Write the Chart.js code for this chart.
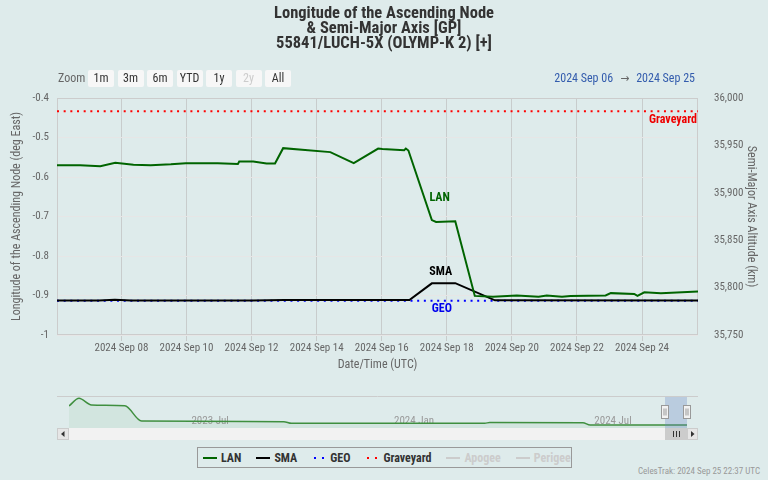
<!DOCTYPE html>
<html>
<head>
<meta charset="utf-8">
<title>55841/LUCH-5X (OLYMP-K 2) - LAN & SMA</title>
<script src="https://cdn.jsdelivr.net/npm/chart.js@4.4.1/dist/chart.umd.min.js"></script>
<style>
  body { margin: 0; background: #deebeb; font-family: 'Roboto Condensed', 'DejaVu Sans Condensed', sans-serif; }
  #wrap { position: relative; width: 768px; height: 480px; overflow: hidden; }
  canvas { position: absolute; left: 0; }
  #main { top: 0; }
  #nav { top: 390px; }
  #zoom-label { position: absolute; left: 58px; top: 70px; line-height: 17px; font-size: 12px; color: #666; }
  .rbtn { position: absolute; top: 70px; width: 26px; height: 17px; line-height: 17px; text-align: center;
          font-size: 12px; color: #333; background: #f7f7f7; border-radius: 2px; }
  .rbtn.off { color: #ccc; }
  #range { position: absolute; right: 73px; top: 70px; line-height: 17px; font-size: 12px; color: #335cad; }
  #range .arrow { color: #666; margin: 0 7px; }
  #legend { position: absolute; left: 197px; top: 447px; width: 375px; height: 21px; box-sizing: border-box;
            border: 1px solid #999; display: flex; align-items: center; padding-left: 5px; }
  .litem { display: flex; align-items: center; margin-right: 15px; font-size: 12px; font-weight: bold; color: #333; }
  .litem.off { color: #ccc; }
  .lsym { width: 14px; height: 2px; margin-right: 4px; }
  #credits { position: absolute; right: 8px; top: 466px; font-size: 9px; color: #999; }
</style>
</head>
<body>
<div id="wrap">
  <canvas id="main" width="768" height="390"></canvas>
  <canvas id="nav" width="768" height="55"></canvas>
  <div id="zoom-label">Zoom</div>
  <div id="buttons"></div>
  <div id="range">2024 Sep 06<span class="arrow">→</span>2024 Sep 25</div>
  <div id="legend"></div>
  <div id="credits">CelesTrak: 2024 Sep 25 22:37 UTC</div>
</div>
<script>
var FONT = "'Roboto Condensed', 'DejaVu Sans Condensed', sans-serif";
var LAN_COLOR = '#006400';

var titleLines = ['Longitude of the Ascending Node', '& Semi-Major Axis [GP]', '55841/LUCH-5X (OLYMP-K 2) [+]'];

// x values are days of September 2024 (UTC)
var viewStart = 6.02;
var viewEnd = 25.72;
var xTickDays = [8, 10, 12, 14, 16, 18, 20, 22, 24];
var lanTicks = [-1, -0.9, -0.8, -0.7, -0.6, -0.5, -0.4];
var smaTicks = [35750, 35800, 35850, 35900, 35950, 36000];

var lanDays = [6.02, 6.73, 7.35, 7.81, 8.37, 8.90, 9.52, 9.98, 10.96, 11.58, 11.62, 12.05, 12.46, 12.72, 12.97,
               14.42, 15.14, 15.89, 16.02, 16.69, 16.74, 16.82, 17.54, 17.67, 18.26, 18.86, 19.42, 20.15,
               20.82, 21.07, 21.54, 21.80, 22.88, 23.04, 23.76, 23.86, 24.07, 24.58, 25.72];
var lanValues = [-0.570, -0.570, -0.573, -0.564, -0.569, -0.570, -0.568, -0.565, -0.565, -0.567, -0.561, -0.561,
                 -0.566, -0.566, -0.527, -0.537, -0.565, -0.528, -0.529, -0.532, -0.528, -0.533, -0.709, -0.714,
                 -0.712, -0.901, -0.903, -0.900, -0.903, -0.900, -0.903, -0.901, -0.900, -0.894, -0.896, -0.901,
                 -0.892, -0.894, -0.890];

var smaDays = [6.02, 7.30, 7.80, 8.30, 12.0, 13.0, 15.0, 16.85, 17.54, 18.26, 19.48, 25.72];
var smaValues = [35786.3, 35786.5, 35787.3, 35786.3, 35786.4, 35787.0, 35786.8, 35786.9, 35804.5, 35804.7,
                 35786.6, 35786.5];

var geoAlt = 35786;
var graveyardAlt = 35986;

var seriesLabels = [
  { text: 'LAN', day: 17.78, value: -0.653, axis: 'yLan', color: LAN_COLOR, align: 'center' },
  { text: 'SMA', day: 17.81, value: 35816.5, axis: 'ySma', color: '#000000', align: 'center' },
  { text: 'GEO', day: 17.85, value: 35776.9, axis: 'ySma', color: '#0000ee', align: 'center' },
  { text: 'Graveyard', day: 25.69, value: 35976.8, axis: 'ySma', color: '#ee0000', align: 'right' }
];

// navigator: days counted from 2024 Jan 01
var sepOffset = 243;
var navStart = -292.5;
var navEnd = 268.94;
var navDays = [-292.5, -283.4, -272.1, -241.8, -226.6, -97.3, -90.5, 85.3, 89.7, 174.4, 180.9, 268.94];
var navValues = [65.6, 92.6, 69.1, 66.6, 13.1, 10.7, 5.1, 5.1, 7.9, 7.2, -0.9, -0.9];
var navTickDays = [-184, 0, 182];
var navTickLabels = ['2023 Jul', '2024 Jan', '2024 Jul'];

var zoomButtons = ['1m', '3m', '6m', 'YTD', '1y', '2y', 'All'];
var disabledButtons = ['2y'];
var legendItems = [
  { name: 'LAN', color: LAN_COLOR, dotted: false, hidden: false },
  { name: 'SMA', color: '#000000', dotted: false, hidden: false },
  { name: 'GEO', color: '#0000ff', dotted: true, hidden: false },
  { name: 'Graveyard', color: '#ff0000', dotted: true, hidden: false },
  { name: 'Apogee', color: '#cccccc', dotted: false, hidden: true },
  { name: 'Perigee', color: '#cccccc', dotted: false, hidden: true }
];

function toPoints(xs, ys) {
  return xs.map(function(x, i) { return { x: x, y: ys[i] }; });
}

function fmtLan(v) {
  return String(+v.toFixed(1));
}

Chart.defaults.font.family = FONT;

var plotBorder = {
  id: 'plotBorder',
  beforeDatasetsDraw: function(chart) {
    var a = chart.chartArea, ctx = chart.ctx;
    ctx.save();
    ctx.strokeStyle = '#cccccc';
    ctx.lineWidth = 1;
    ctx.strokeRect(a.left + 0.5, a.top + 0.5, a.right - a.left - 1, a.bottom - a.top - 1);
    ctx.restore();
  }
};

var labelPlugin = {
  id: 'seriesLabels',
  afterDatasetsDraw: function(chart) {
    var ctx = chart.ctx, x = chart.scales.x;
    ctx.save();
    ctx.font = 'bold 12px ' + FONT;
    ctx.textBaseline = 'middle';
    seriesLabels.forEach(function(l) {
      ctx.fillStyle = l.color;
      ctx.textAlign = l.align;
      ctx.fillText(l.text, x.getPixelForValue(l.day), chart.scales[l.axis].getPixelForValue(l.value));
    });
    ctx.restore();
  }
};

var dots = [2, 4.67];

new Chart(document.getElementById('main'), {
  type: 'line',
  data: {
    datasets: [
      { label: 'LAN', data: toPoints(lanDays, lanValues), yAxisID: 'yLan', borderColor: LAN_COLOR,
        borderWidth: 2, pointRadius: 0, order: 0 },
      { label: 'SMA', data: toPoints(smaDays, smaValues), yAxisID: 'ySma', borderColor: '#000000',
        borderWidth: 2, pointRadius: 0, order: 1 },
      { label: 'GEO', data: toPoints([viewStart, viewEnd], [geoAlt, geoAlt]), yAxisID: 'ySma',
        borderColor: '#0000ff', borderWidth: 2, borderDash: dots, pointRadius: 0, order: 2 },
      { label: 'Graveyard', data: toPoints([viewStart, viewEnd], [graveyardAlt, graveyardAlt]), yAxisID: 'ySma',
        borderColor: '#ff0000', borderWidth: 2, borderDash: dots, pointRadius: 0, order: 3 }
    ]
  },
  options: {
    responsive: false,
    animation: false,
    layout: { padding: 0 },
    plugins: {
      legend: { display: false },
      tooltip: { enabled: false },
      title: {
        display: true, text: titleLines, color: '#333333',
        font: { size: 16.5, weight: 'bold', lineHeight: '15px' },
        padding: { top: 6, bottom: 47 }
      }
    },
    scales: {
      x: {
        type: 'linear', min: viewStart, max: viewEnd,
        afterBuildTicks: function(s) { s.ticks = xTickDays.map(function(d) { return { value: d }; }); },
        afterFit: function(s) { s.height = 55; },
        ticks: {
          autoSkip: false, maxRotation: 0, color: '#666666', font: { size: 11 }, padding: 1,
          callback: function(v) { return '2024 Sep ' + (v < 10 ? '0' : '') + v; }
        },
        grid: { color: '#c8cccc', tickLength: 6 },
        border: { display: false },
        title: { display: true, text: 'Date/Time (UTC)', color: '#666666', font: { size: 12 }, padding: { top: 0, bottom: 17.5 } }
      },
      yLan: {
        position: 'left', min: -1, max: -0.4,
        afterBuildTicks: function(s) { s.ticks = lanTicks.map(function(v) { return { value: v }; }); },
        afterFit: function(s) { s.width = 57; },
        ticks: { color: '#666666', font: { size: 11 }, padding: 8, callback: fmtLan },
        grid: { color: '#e6e6e6', drawTicks: false },
        border: { display: false },
        title: { display: true, text: 'Longitude of the Ascending Node (deg East)', color: '#666666',
                 font: { size: 12 }, padding: { top: 10, bottom: 0 } }
      },
      ySma: {
        position: 'right', min: 35750, max: 36000,
        afterBuildTicks: function(s) { s.ticks = smaTicks.map(function(v) { return { value: v }; }); },
        afterFit: function(s) { s.width = 70; },
        ticks: { color: '#666666', font: { size: 11 }, padding: 8,
                 callback: function(v) { return v.toLocaleString('en-US'); } },
        grid: { display: false },
        border: { display: false },
        title: { display: true, text: 'Semi-Major Axis Altitude (km)', color: '#666666',
                 font: { size: 12 }, padding: { top: 10, bottom: 0 } }
      }
    }
  },
  plugins: [plotBorder, labelPlugin]
});

var navDecor = {
  id: 'navDecor',
  beforeDatasetsDraw: function(chart) {
    var ctx = chart.ctx, x = chart.scales.x, a = chart.chartArea;
    ctx.save();
    ctx.font = '11px ' + FONT;
    ctx.fillStyle = '#999999';
    ctx.textAlign = 'left';
    ctx.textBaseline = 'middle';
    navTickDays.forEach(function(d, i) {
      ctx.fillText(navTickLabels[i], x.getPixelForValue(d) + 3, a.bottom - 7);
    });
    ctx.restore();
  },
  afterDraw: function(chart) {
    var ctx = chart.ctx, x = chart.scales.x, a = chart.chartArea;
    var x1 = Math.round(x.getPixelForValue(viewStart + sepOffset));
    var x2 = Math.round(x.getPixelForValue(viewEnd + sepOffset));
    var left = a.left - 12, right = a.right + 11;
    var sy = a.bottom, sh = 12;
    ctx.save();
    ctx.fillStyle = 'rgba(102,133,194,0.3)';
    ctx.fillRect(x1, a.top, x2 - x1, a.bottom - a.top);

    ctx.strokeStyle = '#cccccc';
    ctx.lineWidth = 1;
    ctx.beginPath();
    ctx.moveTo(left, a.top + 0.5);
    ctx.lineTo(right, a.top + 0.5);
    ctx.stroke();

    // scrollbar
    ctx.fillStyle = '#f2f2f2';
    ctx.fillRect(a.left, sy, a.right - a.left, sh);
    ctx.fillStyle = '#cccccc';
    ctx.fillRect(x1, sy, x2 - x1, sh);
    ctx.strokeStyle = '#333333';
    var mid = Math.round((x1 + x2) / 2);
    [-3, 0, 3].forEach(function(o) {
      ctx.beginPath();
      ctx.moveTo(mid + o + 0.5, sy + 3);
      ctx.lineTo(mid + o + 0.5, sy + 9);
      ctx.stroke();
    });
    [[left, a.left, -1], [a.right, right, 1]].forEach(function(b) {
      ctx.fillStyle = '#e6e6e6';
      ctx.fillRect(b[0], sy, b[1] - b[0], sh);
      ctx.strokeStyle = '#cccccc';
      ctx.strokeRect(b[0] + 0.5, sy + 0.5, b[1] - b[0] - 1, sh - 1);
      var cx = (b[0] + b[1]) / 2, cy = sy + sh / 2;
      ctx.fillStyle = '#333333';
      ctx.beginPath();
      ctx.moveTo(cx + 2 * b[2], cy);
      ctx.lineTo(cx - 1.5 * b[2], cy - 3);
      ctx.lineTo(cx - 1.5 * b[2], cy + 3);
      ctx.closePath();
      ctx.fill();
    });

    // handles
    [x1, x2].forEach(function(hx) {
      ctx.fillStyle = '#f2f2f2';
      ctx.strokeStyle = '#999999';
      ctx.fillRect(hx - 3.5, a.top + 9.5, 7, 13);
      ctx.strokeRect(hx - 3.5, a.top + 9.5, 7, 13);
      ctx.beginPath();
      ctx.moveTo(hx - 1, a.top + 12.5);
      ctx.lineTo(hx - 1, a.top + 19.5);
      ctx.moveTo(hx + 1, a.top + 12.5);
      ctx.lineTo(hx + 1, a.top + 19.5);
      ctx.stroke();
    });
    ctx.restore();
  }
};

new Chart(document.getElementById('nav'), {
  type: 'line',
  data: {
    datasets: [{
      data: toPoints(navDays, navValues), borderColor: '#3f8f3f', borderWidth: 1.5,
      backgroundColor: 'rgba(0,110,0,0.05)', fill: 'start', pointRadius: 0, cubicInterpolationMode: 'monotone'
    }]
  },
  options: {
    responsive: false,
    animation: false,
    layout: { padding: { left: 69, right: 81, top: 6, bottom: 17 } },
    plugins: { legend: { display: false }, tooltip: { enabled: false } },
    scales: {
      x: { type: 'linear', display: false, min: navStart, max: navEnd },
      y: { display: false, min: -11.4, max: 100.6 }
    }
  },
  plugins: [navDecor]
});

// range selector buttons
var btnBox = document.getElementById('buttons');
zoomButtons.forEach(function(b, i) {
  var el = document.createElement('div');
  el.className = 'rbtn' + (disabledButtons.indexOf(b) >= 0 ? ' off' : '');
  el.style.left = (88 + i * 29.5) + 'px';
  el.textContent = b;
  btnBox.appendChild(el);
});

// legend
var legend = document.getElementById('legend');
legendItems.forEach(function(item) {
  var it = document.createElement('div');
  it.className = 'litem' + (item.hidden ? ' off' : '');
  var sym = document.createElement('span');
  sym.className = 'lsym';
  if (item.dotted) {
    sym.style.background = 'repeating-linear-gradient(to right, ' + item.color + ' 0 2px, transparent 2px 8px)';
    sym.style.width = '12px';
    sym.style.marginLeft = '2px';
  } else {
    sym.style.background = item.color;
  }
  it.appendChild(sym);
  it.appendChild(document.createTextNode(item.name));
  legend.appendChild(it);
});
</script>
</body>
</html>
